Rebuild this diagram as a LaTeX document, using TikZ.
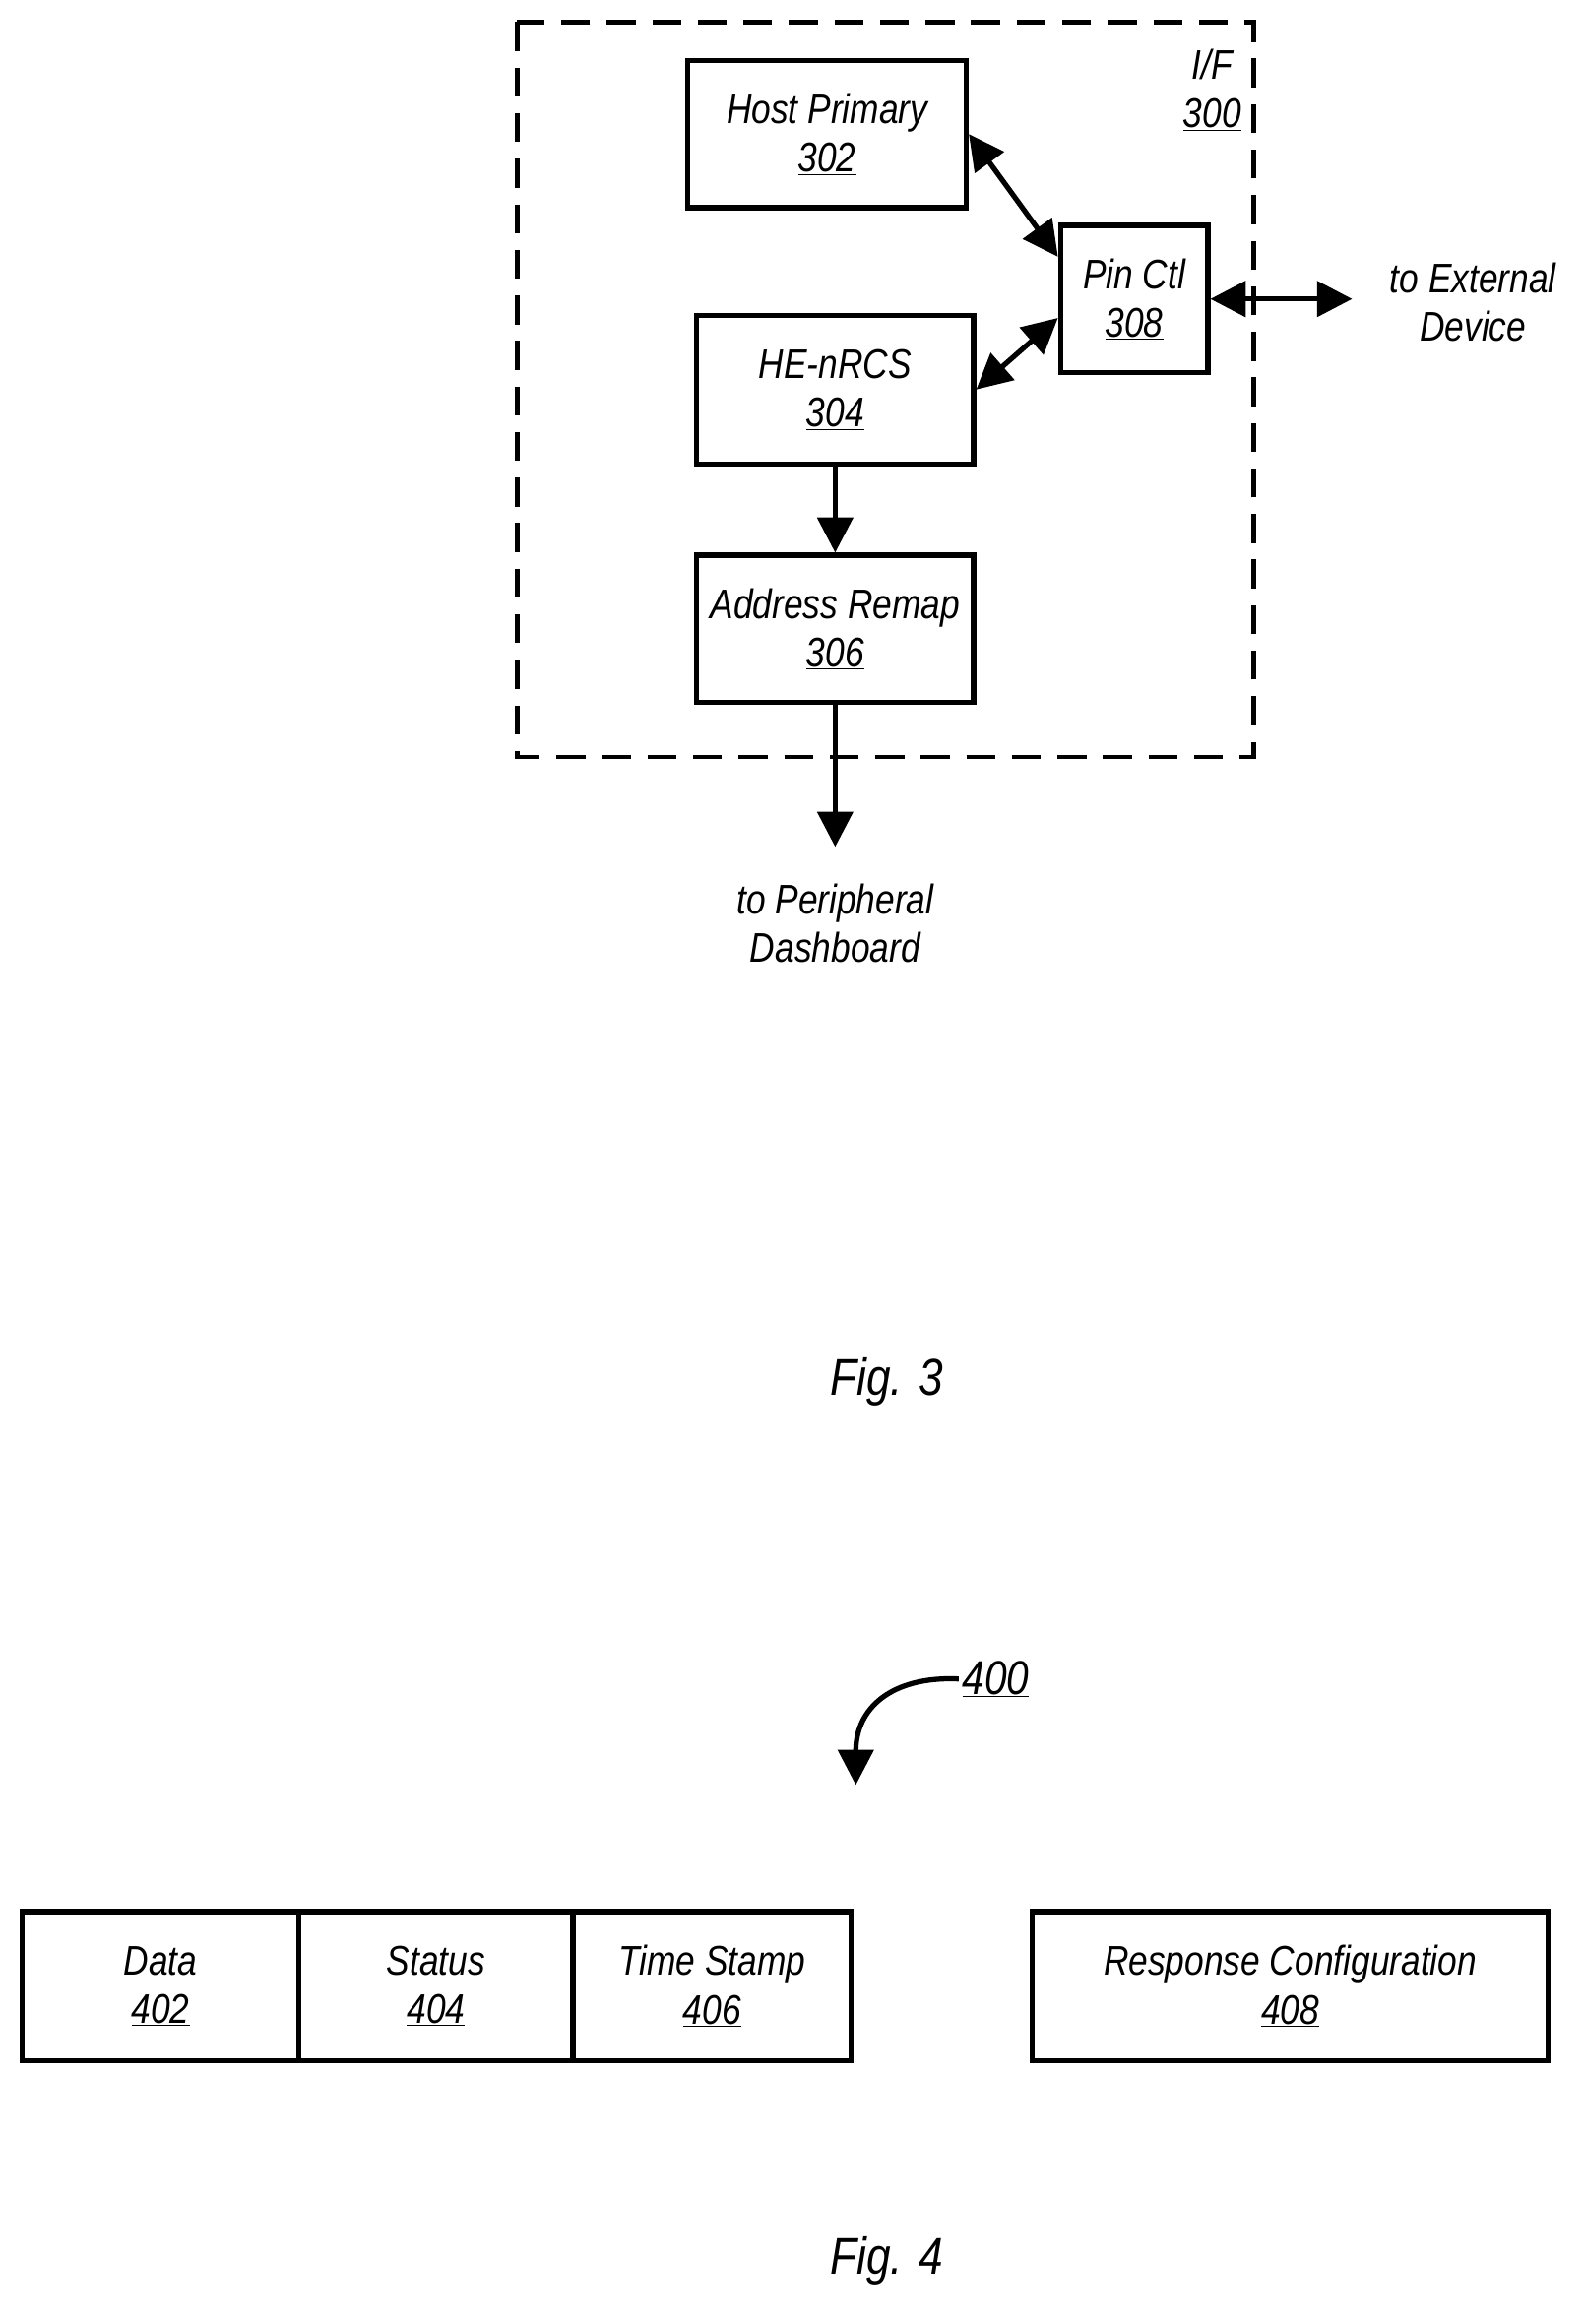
\documentclass[tikz,border=0pt]{standalone}
\usepackage{fontspec}
\setmainfont{Liberation Sans}[FakeStretch=0.84]
\usetikzlibrary{arrows.meta,calc}
\begin{document}
\begin{tikzpicture}[x=0.05cm,y=-0.05cm,
  txt/.style={font=\fontsize{40}{47}\selectfont\itshape,align=center},
  box/.style={draw,line width=5pt,txt,inner sep=0pt},
  arr/.style={line width=5pt,-{Triangle[length=34pt,width=34pt]}},
  darr/.style={line width=5pt,{Triangle[length=34pt,width=34pt]}-{Triangle[length=34pt,width=34pt]}}]
\useasboundingbox (0,0) rectangle (1075,1578);
\draw[line width=4.5pt,dash pattern=on 28pt off 16pt] (351,15) rectangle (851,514);
\node[box,minimum width=9.45cm,minimum height=5cm] (host) at (561.5,91) {Host Primary\\\underline{302}};
\node[box,minimum width=5cm,minimum height=5cm] (pin) at (770,203) {Pin Ctl\\\underline{308}};
\node[box,minimum width=9.4cm,minimum height=5.05cm] (he) at (567,264.5) {HE-nRCS\\\underline{304}};
\node[box,minimum width=9.4cm,minimum height=5cm] (addr) at (567,427) {Address Remap\\\underline{306}};
\node[txt] (if) at (823,61) {I/F\\\underline{300}};
\node[txt] (ext) at (1000,205) {to External\\Device};
\node[txt] (per) at (567,627) {to Peripheral\\Dashboard};
\coordinate (extc) at (918,203);
\coordinate (perc) at (567,575);
\draw[darr] (host.east) -- (pin.151);
\draw[darr] (he.east) -- (pin.194);
\draw[darr] (pin.east) -- (extc);
\draw[arr] (he.south) -- (addr.north);
\draw[arr] (addr.south) -- (perc);
\node[font=\fontsize{50}{58}\selectfont\itshape] (f3) at (602,938) {Fig. 3};
% Fig 4
\node[font=\fontsize{46}{52}\selectfont\itshape] (n400) at (676,1140) {\underline{400}};
\coordinate (c400) at (581,1212);
\draw[arr] (n400.west) .. controls (605,1138) and (581,1160) .. (c400);
\node[box,minimum width=9.4cm,minimum height=5.05cm] (d) at (109,1348.5) {Data\\\underline{402}};
\node[box,minimum width=9.3cm,minimum height=5.05cm] (s) at (296,1348.5) {Status\\\underline{404}};
\node[box,minimum width=9.45cm,minimum height=5.05cm] (t) at (483.5,1348.5) {Time Stamp\\\underline{406}};
\node[box,minimum width=17.5cm,minimum height=5.05cm] (r) at (876,1348.5) {Response Configuration\\\underline{408}};
\node[font=\fontsize{50}{58}\selectfont\itshape] (f4) at (602,1535) {Fig. 4};
\end{tikzpicture}
\end{document}
